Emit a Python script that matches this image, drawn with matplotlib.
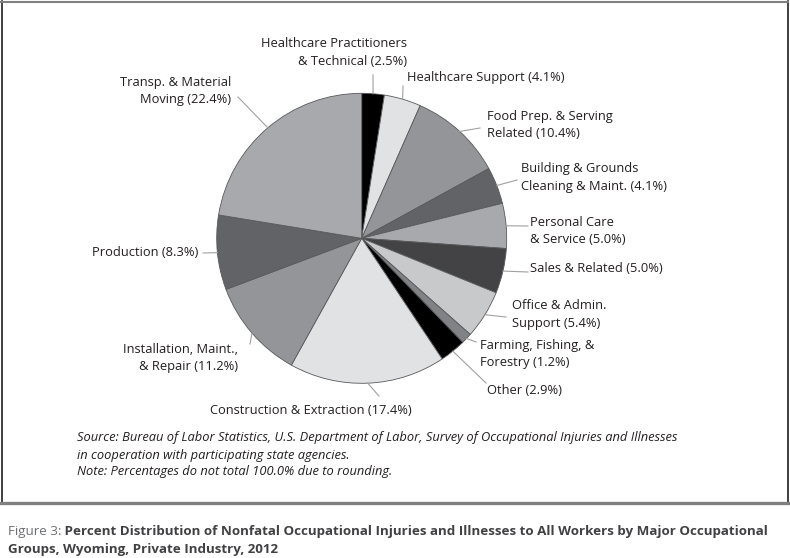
import numpy as np
import matplotlib
matplotlib.use('Agg')
import matplotlib.pyplot as plt
from matplotlib.lines import Line2D

# slices, clockwise from 12 o'clock
labels = ["Healthcare Practitioners\n& Technical (2.5%)",
          "Healthcare Support (4.1%)",
          "Food Prep. & Serving\nRelated (10.4%)",
          "Building & Grounds\nCleaning & Maint. (4.1%)",
          "Personal Care\n& Service (5.0%)",
          "Sales & Related (5.0%)",
          "Office & Admin.\nSupport (5.4%)",
          "Farming, Fishing, &\nForestry (1.2%)",
          "Other (2.9%)",
          "Construction & Extraction (17.4%)",
          "Installation, Maint.,\n& Repair (11.2%)",
          "Production (8.3%)",
          "Transp. & Material\nMoving (22.4%)"]
values = [2.5, 4.1, 10.4, 4.1, 5.0, 5.0, 5.4, 1.2, 2.9, 17.4, 11.2, 8.3, 22.4]
colors = ['#000000', '#e1e2e4', '#939598', '#626366', '#a7a9ac', '#434345',
          '#c8c9cb', '#808285', '#000000', '#e1e2e4', '#939598', '#626366', '#a7a9ac']

# label placement in image pixels: text x, text y, alignment, leader end
lab_pos = [(407, 52.5, 'right', 373, 75),
           (407, 78, 'left', 403, 86),
           (487, 125, 'left', 480, 128),
           (521, 177.5, 'left', 517, 180),
           (530, 231, 'left', 528, 226),
           (530, 269, 'left', 528, 272),
           (512, 314.5, 'left', 506, 317),
           (480, 354, 'left', 476, 342),
           (487, 390, 'left', 486, 383),
           (311, 410, 'center', 379, 396),
           (238, 358, 'right', 250, 344),
           (198, 252, 'right', 203, 253),
           (231, 91, 'right', 238, 97)]

source = ["Source: Bureau of Labor Statistics, U.S. Department of Labor, Survey of Occupational Injuries and Illnesses",
          "in cooperation with participating state agencies.",
          "Note: Percentages do not total 100.0% due to rounding."]
fig_no = "Figure 3:"
title = ["Percent Distribution of Nonfatal Occupational Injuries and Illnesses to All Workers by Major Occupational",
         "Groups, Wyoming, Private Industry, 2012"]

W, H = 790, 558
cx, cy, R = 361.7, 238.3, 145

fig = plt.figure(figsize=(W/100, H/100), dpi=100)
ax = fig.add_axes([0, 0, 1, 1])
ax.set_xlim(0, W)
ax.set_ylim(0, H)
ax.axis('off')

wedges, _ = ax.pie(values, colors=colors, startangle=90, counterclock=False,
                   center=(cx, H - cy), radius=R, normalize=True,
                   wedgeprops=dict(edgecolor='#58595b', linewidth=0.6))
ax.set_xlim(0, W)
ax.set_ylim(0, H)
ax.set_aspect('auto')

lab_font = ['Open Sans', 'DejaVu Sans']
for w, lab, (tx, ty, ha, ex, ey) in zip(wedges, labels, lab_pos):
    ang = np.deg2rad((w.theta1 + w.theta2) / 2)
    sx = cx + R * np.cos(ang)
    sy = (H - cy) + R * np.sin(ang)
    ax.plot([sx, ex], [sy, H - ey], color='#a0a0a0', lw=0.8)
    ax.text(tx, H - ty, lab, ha=ha, va='center', multialignment=ha,
            fontsize=9.25, family=lab_font, color='#231f20', linespacing=1.42)

fig.canvas.draw()
rend = fig.canvas.get_renderer()


def fit(t, width):
    # shrink/grow a text so its line spans the given pixel width
    w0 = t.get_window_extent(rend).width
    t.set_fontsize(t.get_fontsize() * width / w0)


cap_font = ['Open Sans', 'DejaVu Sans']
src = [fig.text(77/W, 1 - y/H, s, ha='left', va='center', fontsize=9,
                style='italic', family=cap_font, color='#231f20')
       for s, y in zip(source, [437, 455, 472])]
fit(src[0], 603)
for t in src[1:]:
    t.set_fontsize(src[0].get_fontsize())

# frame around the chart
fig.add_artist(Line2D([1.5/W, 1.5/W], [1 - 1/H, 1 - 503/H], color='#231f20', lw=1.2))
fig.add_artist(Line2D([787.5/W, 787.5/W], [1 - 1/H, 1 - 503/H], color='#231f20', lw=1.2))
fig.add_artist(Line2D([1/W, 788/W], [1 - 1.5/H, 1 - 1.5/H], color='#808080', lw=1.5))
fig.add_artist(Line2D([1/W, 788/W], [1 - 502.5/H, 1 - 502.5/H], color='#808080', lw=2.4))

t1 = fig.text(8/W, 1 - 531/H, fig_no + " " + title[0], ha='left', va='center',
              fontsize=10, family=cap_font, weight='bold')
fit(t1, 769)
fs = t1.get_fontsize()
t1.set_text(fig_no)
t1.set_weight('normal')
t1.set_color('#6d6e71')
x1 = t1.get_window_extent(rend).x1
fig.text(x1/W, 1 - 531/H, " " + title[0], ha='left', va='center', fontsize=fs,
         family=cap_font, weight='bold', color='#414042')
fig.text(8/W, 1 - 549/H, title[1], ha='left', va='center', fontsize=fs,
         family=cap_font, weight='bold', color='#414042')

fig.savefig('out.png', dpi=100)
